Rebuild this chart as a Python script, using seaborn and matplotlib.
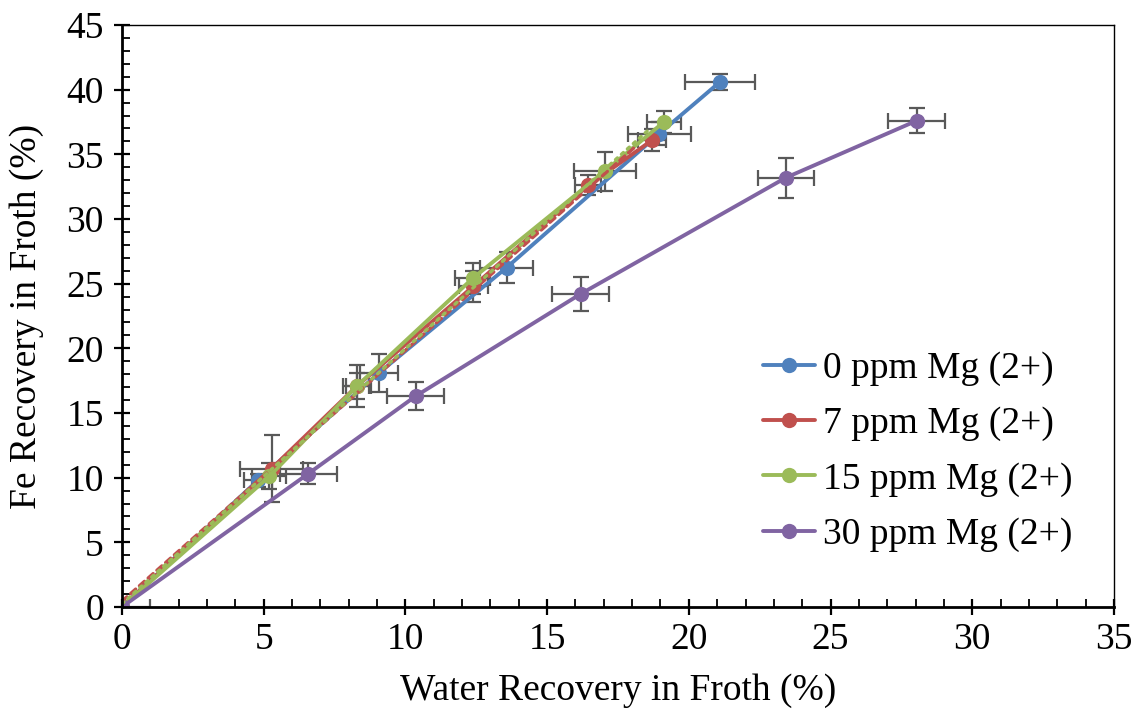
import numpy as np
import pandas as pd
import seaborn as sns
import matplotlib
matplotlib.use("Agg")
import matplotlib.pyplot as plt
from matplotlib.ticker import MultipleLocator

# Water recovery (x) and Fe recovery (y) in froth, with standard deviations
series_names = ["0 ppm Mg (2+)", "7 ppm Mg (2+)", "15 ppm Mg (2+)", "30 ppm Mg (2+)"]

water_0 = [0.0, 4.8, 9.07, 13.57, 18.96, 21.1]
fe_0 = [0.0, 9.8, 18.1, 26.24, 36.6, 40.6]
water_err_0 = [0.0, 0.5, 0.66, 0.92, 1.1, 1.25]
fe_err_0 = [0.0, 0.5, 1.45, 1.2, 0.9, 0.6]

water_7 = [0.0, 5.28, 8.3, 12.4, 16.45, 18.71]
fe_7 = [0.0, 10.7, 17.1, 24.8, 32.6, 36.1]
water_err_7 = [0.0, 1.1, 0.4, 0.5, 0.46, 0.5]
fe_err_7 = [0.0, 2.6, 1.0, 1.2, 0.77, 0.83]

water_15 = [0.0, 5.2, 8.3, 12.37, 17.04, 19.12]
fe_15 = [0.0, 10.1, 17.1, 25.4, 33.7, 37.5]
water_err_15 = [0.0, 0.6, 0.5, 0.62, 1.1, 0.6]
fe_err_15 = [0.0, 1.0, 1.6, 1.2, 1.5, 0.87]

water_30 = [0.0, 6.57, 10.36, 16.18, 23.43, 28.04]
fe_30 = [0.0, 10.3, 16.3, 24.2, 33.2, 37.6]
water_err_30 = [1.0, 1.0, 1.0, 1.0, 1.0, 1.0]
fe_err_30 = [0.0, 0.8, 1.1, 1.3, 1.55, 0.97]

colors = ["#4F81BD", "#C0504D", "#9BBB59", "#8064A2"]

water = [water_0, water_7, water_15, water_30]
fe = [fe_0, fe_7, fe_15, fe_30]
water_err = [water_err_0, water_err_7, water_err_15, water_err_30]
fe_err = [fe_err_0, fe_err_7, fe_err_15, fe_err_30]

frames = []
for name, xs, ys, xe, ye in zip(series_names, water, fe, water_err, fe_err):
    frames.append(pd.DataFrame({"series": name, "water": xs, "fe": ys,
                                "water_err": xe, "fe_err": ye}))
df = pd.concat(frames, ignore_index=True)

sns.set_style("white")
plt.rcParams["font.family"] = ["Liberation Serif", "DejaVu Serif"]
plt.rcParams["text.color"] = "black"
plt.rcParams["axes.labelcolor"] = "black"
plt.rcParams["xtick.color"] = "black"
plt.rcParams["ytick.color"] = "black"

FS = 27

fig = plt.figure(figsize=(11.43, 7.14), dpi=100)
ax = fig.add_axes([0.1067, 0.1499, 0.8679, 0.8151])

# error bars sit beneath the series lines and markers
for name in series_names:
    sub = df[df["series"] == name]
    ax.errorbar(sub["water"], sub["fe"], xerr=sub["water_err"], yerr=sub["fe_err"],
                fmt="none", ecolor="#595959", elinewidth=1.6, capsize=5.5,
                capthick=1.6, zorder=1.5)

sns.lineplot(data=df, x="water", y="fe", hue="series", hue_order=series_names,
             palette=colors, sort=False, marker="o", markersize=11,
             markeredgewidth=0, linewidth=2.8, ax=ax, zorder=2)

# linear trend lines for the 7 and 15 ppm series
for name, color, style in [(series_names[1], colors[1], (0, (2, 1.5))),
                           (series_names[2], colors[2], (0, (0.8, 1.6)))]:
    sub = df[df["series"] == name]
    k, b = np.polyfit(sub["water"], sub["fe"], 1)
    xx = np.array([0.0, sub["water"].max() * 0.97])
    ax.plot(xx, k * xx + b, color=color, linestyle=style, linewidth=2.4,
            dash_capstyle="round", zorder=2.2)

ax.set_xlim(0, 35)
ax.set_ylim(0, 45)
ax.xaxis.set_major_locator(MultipleLocator(5))
ax.xaxis.set_minor_locator(MultipleLocator(1))
ax.yaxis.set_major_locator(MultipleLocator(5))
ax.yaxis.set_minor_locator(MultipleLocator(1))
ax.tick_params(which="major", direction="inout", length=12, width=1.6,
               labelsize=FS, color="black", bottom=True, left=True)
ax.tick_params(axis="x", which="major", pad=5)
ax.tick_params(axis="y", which="major", pad=7)
ax.tick_params(which="minor", direction="in", length=6, width=1.3,
               color="black", bottom=True, left=True)

for side in ["left", "bottom"]:
    ax.spines[side].set_linewidth(2.0)
    ax.spines[side].set_color("black")
for side in ["top", "right"]:
    ax.spines[side].set_linewidth(1.0)
    ax.spines[side].set_color("black")

ax.set_xlabel("Water Recovery in Froth (%)", fontsize=FS, labelpad=12)
ax.set_ylabel("Fe Recovery in Froth (%)", fontsize=FS, labelpad=16)

handles, labels = ax.get_legend_handles_labels()
ax.legend(handles[:4], labels[:4], loc="center left", bbox_to_anchor=(0.612, 0.267),
          frameon=False, fontsize=FS, handlelength=1.4, handletextpad=0.2,
          labelspacing=0.55)

fig.savefig("out.png", dpi=100)
